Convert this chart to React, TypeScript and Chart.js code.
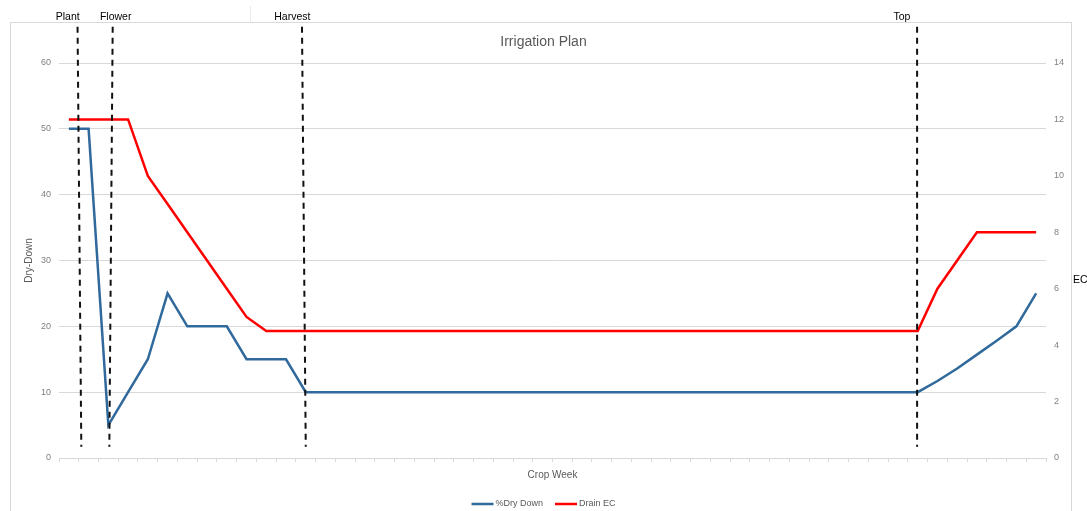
import { useEffect, useRef } from 'react';
import { Chart, registerables } from 'chart.js';

Chart.register(...registerables);

const FONT = "'Liberation Sans', Arial, sans-serif";

const weeks = [
  '1', '2', '3', '4', '5', '6', '7', '8', '9', '10',
  '11', '12', '13', '14', '15', '16', '17', '18', '19', '20',
  '21', '22', '23', '24', '25', '26', '27', '28', '29', '30',
  '31', '32', '33', '34', '35', '36', '37', '38', '39', '40',
  '41', '42', '43', '44', '45', '46', '47', '48', '49', '50',
];

const dryDown = [
  50, 50, 5, 10, 15, 25, 20, 20, 20, 15,
  15, 15, 10, 10, 10, 10, 10, 10, 10, 10,
  10, 10, 10, 10, 10, 10, 10, 10, 10, 10,
  10, 10, 10, 10, 10, 10, 10, 10, 10, 10,
  10, 10, 10, 10, 11.7, 13.6, 15.7, 17.8, 20, 25,
];

const drainEC = [
  12, 12, 12, 12, 10, 9, 8, 7, 6, 5,
  4.5, 4.5, 4.5, 4.5, 4.5, 4.5, 4.5, 4.5, 4.5, 4.5,
  4.5, 4.5, 4.5, 4.5, 4.5, 4.5, 4.5, 4.5, 4.5, 4.5,
  4.5, 4.5, 4.5, 4.5, 4.5, 4.5, 4.5, 4.5, 4.5, 4.5,
  4.5, 4.5, 4.5, 4.5, 6, 7, 8, 8, 8, 8,
];

// Stage markers (in category-index units along the week axis)
const markerLabels = ['Plant', 'Flower', 'Harvest', 'Top'];
const markerTopPos = [0.44, 2.22, 11.81, 42.97];
const markerBottomPos = [0.63, 2.05, 12.0, 42.97];
const markerLabelPos = [-0.06, 2.37, 11.32, 42.2];
const markerSpan = [1.7, 65.5]; // in Dry-Down axis units

const seriesNames = ['%Dry Down', 'Drain EC'];
const seriesColors = ['#30699b', '#ff0000'];

const overlayPlugin = {
  id: 'overlay',
  afterDraw(chart: any) {
    const { ctx, scales } = chart;
    const x = scales.x;
    const y = scales.y;
    ctx.save();

    // outer chart frame
    ctx.strokeStyle = '#d9d9d9';
    ctx.lineWidth = 1;
    ctx.strokeRect(10.5, 22.5, 1061, 520);
    ctx.beginPath();
    ctx.moveTo(250.5, 6);
    ctx.lineTo(250.5, 22);
    ctx.strokeStyle = '#ececec';
    ctx.stroke();

    // dashed stage markers
    ctx.strokeStyle = '#111111';
    ctx.lineWidth = 2;
    ctx.setLineDash([6, 5]);
    markerLabels.forEach((_, i) => {
      const xt = x.getPixelForValue(markerTopPos[i]);
      const xb = x.getPixelForValue(markerBottomPos[i]);
      ctx.beginPath();
      ctx.moveTo(xt, y.getPixelForValue(markerSpan[1]));
      ctx.lineTo(xb, y.getPixelForValue(markerSpan[0]));
      ctx.stroke();
    });
    ctx.setLineDash([]);

    ctx.fillStyle = '#000000';
    ctx.font = `10.5px ${FONT}`;
    ctx.textAlign = 'center';
    ctx.textBaseline = 'middle';
    markerLabels.forEach((lab, i) => {
      ctx.fillText(lab, x.getPixelForValue(markerLabelPos[i]), 17);
    });

    // right axis title (horizontal)
    ctx.textAlign = 'left';
    ctx.font = `10.5px ${FONT}`;
    ctx.fillText('EC', 1073, 280);

    // legend
    ctx.font = `9px ${FONT}`;
    const lineLen = 22;
    const itemGap = 12;
    const widths = seriesNames.map((n) => ctx.measureText(n).width);
    const total = widths.reduce((a, w) => a + lineLen + 2 + w, 0) + itemGap * (seriesNames.length - 1);
    let lx = chart.width / 2 - total / 2;
    const ly = 504;
    seriesNames.forEach((n, i) => {
      ctx.strokeStyle = seriesColors[i];
      ctx.lineWidth = 2.5;
      ctx.beginPath();
      ctx.moveTo(lx, ly);
      ctx.lineTo(lx + lineLen, ly);
      ctx.stroke();
      ctx.fillStyle = '#595959';
      ctx.fillText(n, lx + lineLen + 2, ly);
      lx += lineLen + 2 + widths[i] + itemGap;
    });

    ctx.restore();
  },
};

export default function App() {
  const canvasRef = useRef<HTMLCanvasElement | null>(null);

  useEffect(() => {
    document.body.style.margin = '0';
    const canvas = canvasRef.current;
    if (!canvas) return;
    const chart = new Chart(canvas, {
      type: 'line',
      data: {
        labels: weeks,
        datasets: [
          {
            label: seriesNames[0],
            data: dryDown,
            borderColor: seriesColors[0],
            backgroundColor: seriesColors[0],
            borderWidth: 2.5,
            pointRadius: 0,
            tension: 0,
            yAxisID: 'y',
          },
          {
            label: seriesNames[1],
            data: drainEC,
            borderColor: seriesColors[1],
            backgroundColor: seriesColors[1],
            borderWidth: 2.5,
            pointRadius: 0,
            tension: 0,
            yAxisID: 'y1',
          },
        ],
      },
      options: {
        responsive: false,
        animation: false,
        layout: { padding: 0 },
        plugins: {
          legend: { display: false },
          tooltip: { enabled: false },
          title: {
            display: true,
            text: 'Irrigation Plan',
            color: '#595959',
            font: { family: FONT, size: 14, weight: 'normal' },
            padding: { top: 33.6, bottom: 12.6 },
          },
        },
        scales: {
          x: {
            type: 'category',
            offset: true,
            grid: {
              display: true,
              drawOnChartArea: false,
              drawTicks: true,
              tickLength: 4,
              color: '#d9d9d9',
              offset: true,
            },
            border: { display: true, color: '#d9d9d9' },
            ticks: { display: false },
            title: {
              display: true,
              text: 'Crop Week',
              color: '#595959',
              font: { family: FONT, size: 10 },
              padding: { top: 0, bottom: 29.4 },
            },
            afterFit: (s: any) => {
              s.height = 53;
            },
          },
          y: {
            type: 'linear',
            position: 'left',
            min: 0,
            max: 60,
            ticks: {
              stepSize: 10,
              color: '#808080',
              font: { family: FONT, size: 9 },
              padding: 8,
            },
            grid: { color: '#d9d9d9', drawTicks: false },
            border: { display: false },
            title: {
              display: true,
              text: 'Dry-Down',
              color: '#595959',
              font: { family: FONT, size: 10 },
              padding: { top: 23.4, bottom: 0 },
            },
            afterFit: (s: any) => {
              s.width = 59;
            },
          },
          y1: {
            type: 'linear',
            position: 'right',
            min: 0,
            max: 14,
            ticks: {
              stepSize: 2,
              color: '#808080',
              font: { family: FONT, size: 9 },
              padding: 8,
            },
            grid: { drawOnChartArea: false, drawTicks: false },
            border: { display: false },
            afterFit: (s: any) => {
              s.width = 41;
            },
          },
        },
      },
      plugins: [overlayPlugin],
    });
    return () => chart.destroy();
  }, []);

  return (
    <div style={{ position: 'absolute', left: 0, top: 0, width: 1087, height: 511 }}>
      <canvas ref={canvasRef} width={1087} height={511} style={{ width: 1087, height: 511, display: 'block' }} />
    </div>
  );
}
